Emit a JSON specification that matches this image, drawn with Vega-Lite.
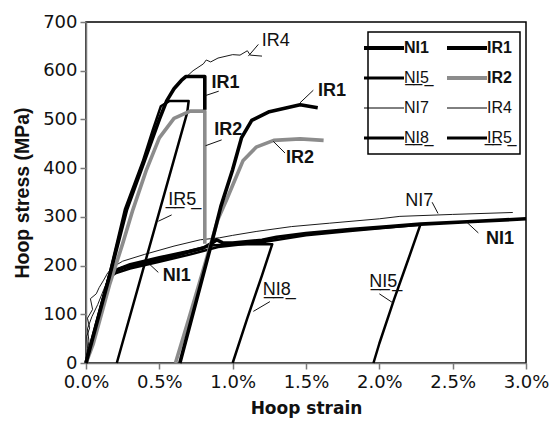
{
  "$schema": "https://vega.github.io/schema/vega-lite/v6.json",
  "width": 440,
  "height": 341,
  "autosize": {"type": "none"},
  "padding": {"left": 86, "top": 22, "right": 23, "bottom": 61},
  "background": "white",
  "config": {
    "view": {"stroke": "black", "strokeWidth": 1.5},
    "axis": {"grid": false, "domainColor": "#7a7a7a", "domainWidth": 1.5, "tickColor": "#7a7a7a", "tickWidth": 1.5, "tickSize": 6, "labelColor": "#111", "labelFont": "DejaVu Sans", "labelFontSize": 18, "labelFlush": false, "titleColor": "#111", "titleFontWeight": "bold"}
  },
  "datasets": {
    "curves": [
      {"t": "NI7", "s": "NI7", "x": 0, "y": 0}, {"t": "NI7", "s": "NI7", "x": 0.01, "y": 30}, {"t": "NI7", "s": "NI7", "x": 0.005, "y": 55}, {"t": "NI7", "s": "NI7", "x": 0.025, "y": 72}, {"t": "NI7", "s": "NI7", "x": 0.01, "y": 92}, {"t": "NI7", "s": "NI7", "x": 0.045, "y": 110}, {"t": "NI7", "s": "NI7", "x": 0.03, "y": 132}, {"t": "NI7", "s": "NI7", "x": 0.07, "y": 142}, {"t": "NI7", "s": "NI7", "x": 0.09, "y": 155}, {"t": "NI7", "s": "NI7", "x": 0.12, "y": 170}, {"t": "NI7", "s": "NI7", "x": 0.15, "y": 186}, {"t": "NI7", "s": "NI7", "x": 0.2, "y": 200}, {"t": "NI7", "s": "NI7", "x": 0.25, "y": 209}, {"t": "NI7", "s": "NI7", "x": 0.4, "y": 223}, {"t": "NI7", "s": "NI7", "x": 0.6, "y": 240}, {"t": "NI7", "s": "NI7", "x": 0.78, "y": 253}, {"t": "NI7", "s": "NI7", "x": 0.91, "y": 257}, {"t": "NI7", "s": "NI7", "x": 1.0, "y": 262}, {"t": "NI7", "s": "NI7", "x": 1.16, "y": 270}, {"t": "NI7", "s": "NI7", "x": 1.4, "y": 280}, {"t": "NI7", "s": "NI7", "x": 1.66, "y": 287}, {"t": "NI7", "s": "NI7", "x": 2.0, "y": 296}, {"t": "NI7", "s": "NI7", "x": 2.14, "y": 301}, {"t": "NI7", "s": "NI7", "x": 2.5, "y": 305}, {"t": "NI7", "s": "NI7", "x": 2.91, "y": 309},
      {"t": "IR4", "s": "IR4", "x": 0, "y": 0}, {"t": "IR4", "s": "IR4", "x": 0.02, "y": 45}, {"t": "IR4", "s": "IR4", "x": 0.01, "y": 70}, {"t": "IR4", "s": "IR4", "x": 0.04, "y": 95}, {"t": "IR4", "s": "IR4", "x": 0.08, "y": 120}, {"t": "IR4", "s": "IR4", "x": 0.16, "y": 180}, {"t": "IR4", "s": "IR4", "x": 0.28, "y": 318}, {"t": "IR4", "s": "IR4", "x": 0.4, "y": 419}, {"t": "IR4", "s": "IR4", "x": 0.5, "y": 503}, {"t": "IR4", "s": "IR4", "x": 0.56, "y": 545}, {"t": "IR4", "s": "IR4", "x": 0.6, "y": 563}, {"t": "IR4", "s": "IR4", "x": 0.65, "y": 578}, {"t": "IR4", "s": "IR4", "x": 0.73, "y": 600}, {"t": "IR4", "s": "IR4", "x": 0.8, "y": 614}, {"t": "IR4", "s": "IR4", "x": 0.82, "y": 622}, {"t": "IR4", "s": "IR4", "x": 0.85, "y": 618}, {"t": "IR4", "s": "IR4", "x": 0.9, "y": 626}, {"t": "IR4", "s": "IR4", "x": 1.0, "y": 633}, {"t": "IR4", "s": "IR4", "x": 1.05, "y": 632}, {"t": "IR4", "s": "IR4", "x": 1.1, "y": 641}, {"t": "IR4", "s": "IR4", "x": 1.12, "y": 632}, {"t": "IR4", "s": "IR4", "x": 1.2, "y": 630},
      {"t": "NI8", "s": "NI8", "x": 0, "y": 0}, {"t": "NI8", "s": "NI8", "x": 0.16, "y": 180}, {"t": "NI8", "s": "NI8", "x": 0.2, "y": 191}, {"t": "NI8", "s": "NI8", "x": 0.3, "y": 203}, {"t": "NI8", "s": "NI8", "x": 0.5, "y": 217}, {"t": "NI8", "s": "NI8", "x": 0.7, "y": 230}, {"t": "NI8", "s": "NI8", "x": 0.85, "y": 241}, {"t": "NI8", "s": "NI8", "x": 1.0, "y": 244}, {"t": "NI8", "s": "NI8", "x": 1.27, "y": 244}, {"t": "NI8", "s": "NI8", "x": 1.2, "y": 180}, {"t": "NI8", "s": "NI8", "x": 1.1, "y": 92}, {"t": "NI8", "s": "NI8", "x": 1.0, "y": 0},
      {"t": "NI5", "s": "NI5", "x": 0, "y": 0}, {"t": "NI5", "s": "NI5", "x": 0.16, "y": 176}, {"t": "NI5", "s": "NI5", "x": 0.2, "y": 184}, {"t": "NI5", "s": "NI5", "x": 0.3, "y": 194}, {"t": "NI5", "s": "NI5", "x": 0.5, "y": 208}, {"t": "NI5", "s": "NI5", "x": 0.7, "y": 222}, {"t": "NI5", "s": "NI5", "x": 0.9, "y": 238}, {"t": "NI5", "s": "NI5", "x": 1.2, "y": 248}, {"t": "NI5", "s": "NI5", "x": 1.5, "y": 262}, {"t": "NI5", "s": "NI5", "x": 1.8, "y": 271}, {"t": "NI5", "s": "NI5", "x": 2.1, "y": 279}, {"t": "NI5", "s": "NI5", "x": 2.28, "y": 284}, {"t": "NI5", "s": "NI5", "x": 2.2, "y": 215}, {"t": "NI5", "s": "NI5", "x": 2.1, "y": 130}, {"t": "NI5", "s": "NI5", "x": 2.0, "y": 40}, {"t": "NI5", "s": "NI5", "x": 1.96, "y": 0},
      {"t": "NI1", "s": "NI1", "x": 0, "y": 0}, {"t": "NI1", "s": "NI1", "x": 0.08, "y": 90}, {"t": "NI1", "s": "NI1", "x": 0.16, "y": 178}, {"t": "NI1", "s": "NI1", "x": 0.19, "y": 188}, {"t": "NI1", "s": "NI1", "x": 0.25, "y": 195}, {"t": "NI1", "s": "NI1", "x": 0.3, "y": 199}, {"t": "NI1", "s": "NI1", "x": 0.4, "y": 206}, {"t": "NI1", "s": "NI1", "x": 0.5, "y": 213}, {"t": "NI1", "s": "NI1", "x": 0.6, "y": 220}, {"t": "NI1", "s": "NI1", "x": 0.71, "y": 229}, {"t": "NI1", "s": "NI1", "x": 0.8, "y": 236}, {"t": "NI1", "s": "NI1", "x": 0.86, "y": 246}, {"t": "NI1", "s": "NI1", "x": 0.89, "y": 253}, {"t": "NI1", "s": "NI1", "x": 0.93, "y": 247}, {"t": "NI1", "s": "NI1", "x": 1.0, "y": 246}, {"t": "NI1", "s": "NI1", "x": 1.2, "y": 252}, {"t": "NI1", "s": "NI1", "x": 1.3, "y": 258}, {"t": "NI1", "s": "NI1", "x": 1.5, "y": 266}, {"t": "NI1", "s": "NI1", "x": 1.8, "y": 274}, {"t": "NI1", "s": "NI1", "x": 2.07, "y": 280}, {"t": "NI1", "s": "NI1", "x": 2.28, "y": 285}, {"t": "NI1", "s": "NI1", "x": 2.6, "y": 290}, {"t": "NI1", "s": "NI1", "x": 3.0, "y": 296},
      {"t": "IR5", "s": "IR5", "x": 0, "y": 0}, {"t": "IR5", "s": "IR5", "x": 0.155, "y": 176}, {"t": "IR5", "s": "IR5", "x": 0.265, "y": 315}, {"t": "IR5", "s": "IR5", "x": 0.385, "y": 412}, {"t": "IR5", "s": "IR5", "x": 0.455, "y": 478}, {"t": "IR5", "s": "IR5", "x": 0.51, "y": 527}, {"t": "IR5", "s": "IR5", "x": 0.57, "y": 538}, {"t": "IR5", "s": "IR5", "x": 0.70, "y": 538}, {"t": "IR5", "s": "IR5", "x": 0.69, "y": 514}, {"t": "IR5", "s": "IR5", "x": 0.21, "y": 0},
      {"t": "IR2", "s": "IR2a", "x": 0, "y": 0}, {"t": "IR2", "s": "IR2a", "x": 0.05, "y": 40}, {"t": "IR2", "s": "IR2a", "x": 0.16, "y": 160}, {"t": "IR2", "s": "IR2a", "x": 0.25, "y": 245}, {"t": "IR2", "s": "IR2a", "x": 0.32, "y": 315}, {"t": "IR2", "s": "IR2a", "x": 0.41, "y": 395}, {"t": "IR2", "s": "IR2a", "x": 0.5, "y": 462}, {"t": "IR2", "s": "IR2a", "x": 0.6, "y": 502}, {"t": "IR2", "s": "IR2a", "x": 0.71, "y": 517}, {"t": "IR2", "s": "IR2a", "x": 0.81, "y": 517}, {"t": "IR2", "s": "IR2a", "x": 0.81, "y": 245},
      {"t": "IR2", "s": "IR2b", "x": 0.61, "y": 0}, {"t": "IR2", "s": "IR2b", "x": 0.7, "y": 90}, {"t": "IR2", "s": "IR2b", "x": 0.8, "y": 192}, {"t": "IR2", "s": "IR2b", "x": 0.9, "y": 295}, {"t": "IR2", "s": "IR2b", "x": 0.96, "y": 336}, {"t": "IR2", "s": "IR2b", "x": 1.0, "y": 365}, {"t": "IR2", "s": "IR2b", "x": 1.07, "y": 415}, {"t": "IR2", "s": "IR2b", "x": 1.16, "y": 443}, {"t": "IR2", "s": "IR2b", "x": 1.28, "y": 457}, {"t": "IR2", "s": "IR2b", "x": 1.46, "y": 460}, {"t": "IR2", "s": "IR2b", "x": 1.62, "y": 457},
      {"t": "IR1", "s": "IR1a", "x": 0, "y": 0}, {"t": "IR1", "s": "IR1a", "x": 0.16, "y": 178}, {"t": "IR1", "s": "IR1a", "x": 0.277, "y": 315}, {"t": "IR1", "s": "IR1a", "x": 0.4, "y": 417}, {"t": "IR1", "s": "IR1a", "x": 0.5, "y": 500}, {"t": "IR1", "s": "IR1a", "x": 0.55, "y": 538}, {"t": "IR1", "s": "IR1a", "x": 0.6, "y": 563}, {"t": "IR1", "s": "IR1a", "x": 0.65, "y": 580}, {"t": "IR1", "s": "IR1a", "x": 0.68, "y": 588}, {"t": "IR1", "s": "IR1a", "x": 0.81, "y": 588}, {"t": "IR1", "s": "IR1a", "x": 0.81, "y": 520},
      {"t": "IR1", "s": "IR1b", "x": 0.64, "y": 0}, {"t": "IR1", "s": "IR1b", "x": 0.75, "y": 125}, {"t": "IR1", "s": "IR1b", "x": 0.857, "y": 247}, {"t": "IR1", "s": "IR1b", "x": 0.92, "y": 322}, {"t": "IR1", "s": "IR1b", "x": 1.0, "y": 397}, {"t": "IR1", "s": "IR1b", "x": 1.06, "y": 462}, {"t": "IR1", "s": "IR1b", "x": 1.13, "y": 498}, {"t": "IR1", "s": "IR1b", "x": 1.25, "y": 516}, {"t": "IR1", "s": "IR1b", "x": 1.46, "y": 530}, {"t": "IR1", "s": "IR1b", "x": 1.58, "y": 524}
    ],
    "leaders": [
      {"x": 1.107, "y": 630, "x2": 1.175, "y2": 654},
      {"x": 0.815, "y": 549, "x2": 0.905, "y2": 558},
      {"x": 0.815, "y": 446, "x2": 0.925, "y2": 458},
      {"x": 1.459, "y": 534, "x2": 1.55, "y2": 560},
      {"x": 1.277, "y": 455, "x2": 1.357, "y2": 431},
      {"x": 0.493, "y": 291, "x2": 0.584, "y2": 304},
      {"x": 0.436, "y": 202, "x2": 0.493, "y2": 186},
      {"x": 1.141, "y": 106, "x2": 1.254, "y2": 126},
      {"x": 2.36, "y": 330, "x2": 2.40, "y2": 307},
      {"x": 2.596, "y": 289, "x2": 2.675, "y2": 267},
      {"x": 2.0, "y": 142, "x2": 2.095, "y2": 123}
    ],
    "labels": [
      {"label": "IR4", "x": 1.293, "y": 660, "w": "normal"},
      {"label": "IR1", "x": 0.951, "y": 575, "w": "bold"},
      {"label": "IR2", "x": 0.97, "y": 479, "w": "bold"},
      {"label": "IR1", "x": 1.678, "y": 558, "w": "bold"},
      {"label": "IR2", "x": 1.459, "y": 421, "w": "bold"},
      {"label": "I̲R̲5̲", "x": 0.656, "y": 335, "w": "normal"},
      {"label": "NI1", "x": 0.618, "y": 178, "w": "bold"},
      {"label": "NI7", "x": 2.272, "y": 332, "w": "normal"},
      {"label": "NI1", "x": 2.823, "y": 255, "w": "bold"},
      {"label": "N̲I̲8̲", "x": 1.3, "y": 150, "w": "normal"},
      {"label": "N̲I̲5̲", "x": 2.027, "y": 166, "w": "normal"}
    ]
  },
  "layer": [
    {
      "data": {"name": "curves"},
      "mark": {"type": "line", "strokeJoin": "round", "strokeCap": "butt"},
      "encoding": {
        "x": {"field": "x", "type": "quantitative", "scale": {"domain": [0, 3], "nice": false}, "axis": {"values": [0, 0.5, 1, 1.5, 2, 2.5, 3], "labelExpr": "format(datum.value, '.1f') + '%'", "title": "Hoop strain", "titleFont": "DejaVu Sans", "titleFontSize": 17, "titlePadding": 9, "labelPadding": 4}},
        "y": {"field": "y", "type": "quantitative", "scale": {"domain": [0, 700], "nice": false}, "axis": {"values": [0, 100, 200, 300, 400, 500, 600, 700], "title": "Hoop stress (MPa)", "titleFont": "Liberation Sans", "titleFontSize": 19.5, "titlePadding": 10, "labelPadding": 3}},
        "color": {"field": "t", "type": "nominal", "scale": {"domain": ["NI1", "IR1", "NI5", "IR2", "NI7", "IR4", "NI8", "IR5"], "range": ["#000000", "#000000", "#000000", "#8c8c8c", "#000000", "#000000", "#000000", "#000000"]},
          "legend": {"title": null, "orient": "none", "legendX": 282, "legendY": 10, "columns": 2, "direction": "horizontal", "symbolType": "M-1,0H1", "symbolSize": 1600, "symbolOffset": 0, "labelOffset": 12, "columnPadding": 10, "rowPadding": 14, "padding": 8, "strokeColor": "black", "fillColor": "white", "labelFont": "Liberation Sans", "labelFontSize": 16, "labelColor": "#111", "labelLimit": 0,
            "labelExpr": "datum.label === 'NI5' ? 'N̲I̲5̲' : datum.label === 'NI8' ? 'N̲I̲8̲' : datum.label === 'IR5' ? 'I̲R̲5̲' : datum.label",
            "encode": {
              "legend": {"update": {"strokeWidth": {"value": 1.5}}},
              "labels": {"update": {"fontWeight": {"signal": "indexof(['NI1','IR1','IR2'], datum.label) >= 0 ? 'bold' : 'normal'"}}},
              "symbols": {"update": {"strokeWidth": {"signal": "indexof(['NI1','IR1','IR2'], datum.value) >= 0 ? 3.8 : indexof(['NI7','IR4'], datum.value) >= 0 ? 1 : 2.8"}}}
            }}},
        "strokeWidth": {"condition": [{"test": "indexof(['NI1','IR1','IR2'], datum.t) >= 0", "value": 3.6}, {"test": "indexof(['NI7','IR4'], datum.t) >= 0", "value": 0.9}], "value": 2.5},
        "detail": {"field": "s"},
        "order": {"value": null}
      }
    },
    {
      "data": {"name": "leaders"},
      "mark": {"type": "rule", "color": "#111", "strokeWidth": 1},
      "encoding": {
        "x": {"field": "x", "type": "quantitative"},
        "y": {"field": "y", "type": "quantitative"},
        "x2": {"field": "x2"},
        "y2": {"field": "y2"}
      }
    },
    {
      "data": {"name": "labels"},
      "transform": [{"filter": "datum.w === 'normal'"}],
      "mark": {"type": "text", "font": "Liberation Sans", "fontSize": 18, "fontWeight": "normal", "color": "#111", "align": "center", "baseline": "middle"},
      "encoding": {
        "x": {"field": "x", "type": "quantitative"},
        "y": {"field": "y", "type": "quantitative"},
        "text": {"field": "label"}
      }
    },
    {
      "data": {"name": "labels"},
      "transform": [{"filter": "datum.w === 'bold'"}],
      "mark": {"type": "text", "font": "Liberation Sans", "fontSize": 18, "fontWeight": "bold", "color": "#111", "align": "center", "baseline": "middle"},
      "encoding": {
        "x": {"field": "x", "type": "quantitative"},
        "y": {"field": "y", "type": "quantitative"},
        "text": {"field": "label"}
      }
    }
  ]
}
